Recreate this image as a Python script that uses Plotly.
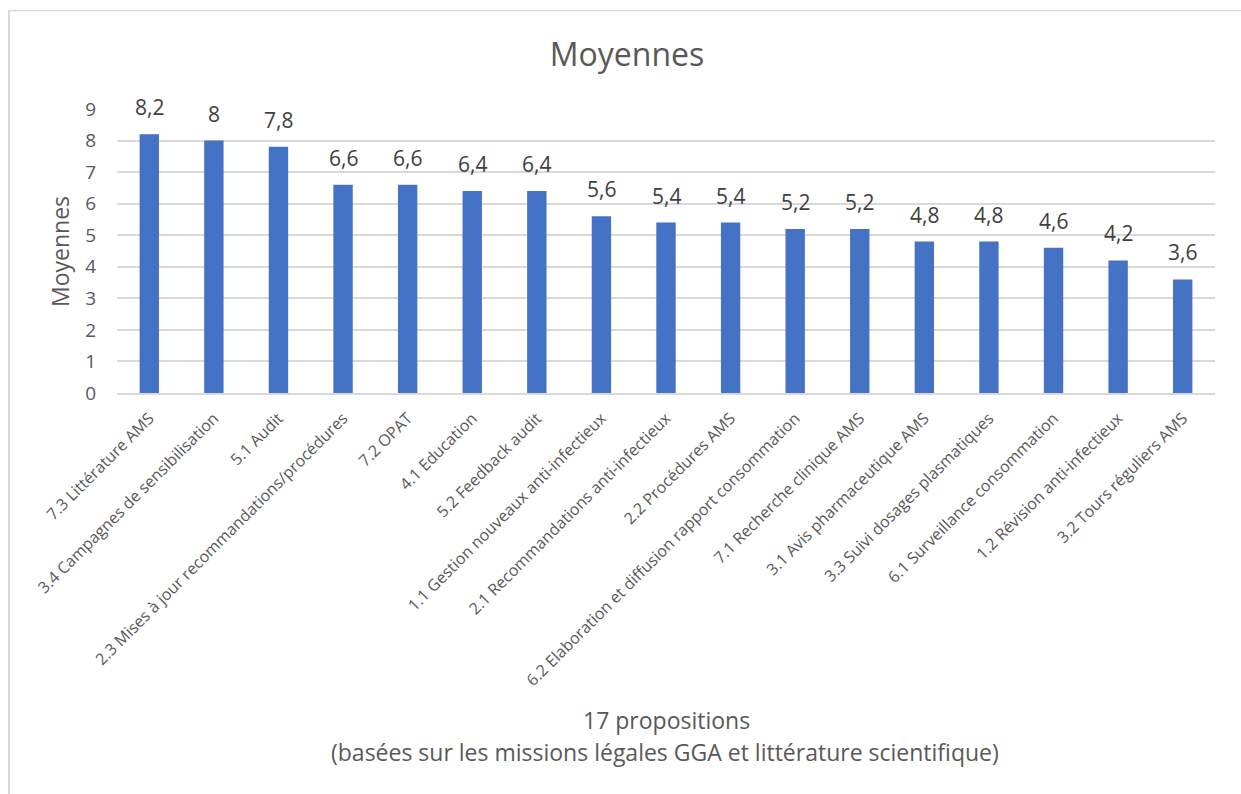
import plotly.graph_objects as go

categories = [
    "7.3 Littérature AMS",
    "3.4 Campagnes de sensibilisation",
    "5.1 Audit",
    "2.3 Mises à jour recommandations/procédures",
    "7.2 OPAT",
    "4.1 Education",
    "5.2 Feedback audit",
    "1.1 Gestion nouveaux anti-infectieux",
    "2.1 Recommandations anti-infectieux",
    "2.2 Procédures AMS",
    "6.2 Elaboration et diffusion rapport consommation",
    "7.1 Recherche clinique AMS",
    "3.1 Avis pharmaceutique AMS",
    "3.3 Suivi dosages plasmatiques",
    "6.1 Surveillance consommation",
    "1.2 Révision anti-infectieux",
    "3.2 Tours réguliers AMS",
]
values = [8.2, 8, 7.8, 6.6, 6.6, 6.4, 6.4, 5.6, 5.4, 5.4, 5.2, 5.2, 4.8, 4.8, 4.6, 4.2, 3.6]
y_ticks = [0, 1, 2, 3, 4, 5, 6, 7, 8, 9]

title_text = "Moyennes"
y_title = "Moyennes"
x_title_1 = "17 propositions"
x_title_2 = "(basées sur les missions légales GGA et littérature scientifique)"

labels = [f"{v:g}".replace(".", ",") for v in values]

FONT = "Open Sans"
W, H = 1241, 794
L, R, T, B = 117, 1215, 109, 393
PW, PH = R - L, B - T

def px(x):
    return (x - L) / PW

def py(y):
    return (B - y) / PH

fig = go.Figure(
    go.Bar(
        x=categories,
        y=values,
        marker=dict(color="#4472C4", line=dict(width=0)),
        width=0.3,
        hoverinfo="x+y",
    )
)

label_annotations = [
    dict(
        x=c, y=v, xref="x", yref="y", text=t,
        showarrow=False, xanchor="center", yanchor="bottom", yshift=11,
        font=dict(family=FONT, size=21, color="#404040"),
    )
    for c, v, t in zip(categories, values, labels)
]

fig.update_layout(
    width=W,
    height=H,
    margin=dict(l=L, r=W - R, t=T, b=H - B, pad=0),
    paper_bgcolor="white",
    plot_bgcolor="white",
    showlegend=False,
    separators=", ",
    font=dict(family=FONT, color="#595959"),
    title=dict(
        text=title_text,
        x=627 / W,
        xref="container",
        xanchor="center",
        y=1 - 55 / H,
        yanchor="middle",
        font=dict(family=FONT, size=32, color="#595959"),
    ),
    xaxis=dict(
        tickangle=-45,
        tickfont=dict(family=FONT, size=16, color="#595959"),
        showline=True,
        linecolor="#D9D9D9",
        linewidth=1.5,
        ticks="outside",
        ticklen=8,
        tickcolor="rgba(0,0,0,0)",
        showgrid=False,
    ),
    yaxis=dict(
        range=[0, 9],
        tickvals=y_ticks,
        tickfont=dict(family=FONT, size=19, color="#595959"),
        showgrid=True,
        gridcolor="#D9D9D9",
        gridwidth=1.5,
        zeroline=False,
        showline=False,
        ticks="",
        ticklen=0,
        ticklabelstandoff=20,
    ),
    annotations=label_annotations + [
        dict(
            text=y_title, xref="paper", yref="paper",
            x=px(60), y=py(252), textangle=-90,
            showarrow=False, xanchor="center", yanchor="middle",
            font=dict(family=FONT, size=23, color="#595959"),
        ),
        dict(
            text=x_title_1, xref="paper", yref="paper",
            x=px(666), y=py(720),
            showarrow=False, xanchor="center", yanchor="middle",
            font=dict(family=FONT, size=23, color="#595959"),
        ),
        dict(
            text=x_title_2, xref="paper", yref="paper",
            x=px(665), y=py(752),
            showarrow=False, xanchor="center", yanchor="middle",
            font=dict(family=FONT, size=23, color="#595959"),
        ),
    ],
    shapes=[
        dict(type="line", xref="paper", yref="paper",
             x0=px(9), x1=px(9), y0=py(10), y1=py(800),
             line=dict(color="#D9D9D9", width=2), layer="below"),
        dict(type="line", xref="paper", yref="paper",
             x0=px(8), x1=px(1245), y0=py(10.5), y1=py(10.5),
             line=dict(color="#D9D9D9", width=1.5), layer="below"),
    ],
)

fig.write_html(
    "out.html",
    config={"displayModeBar": False},
    post_script="document.body.style.margin='0';document.body.style.overflow='hidden';",
)
